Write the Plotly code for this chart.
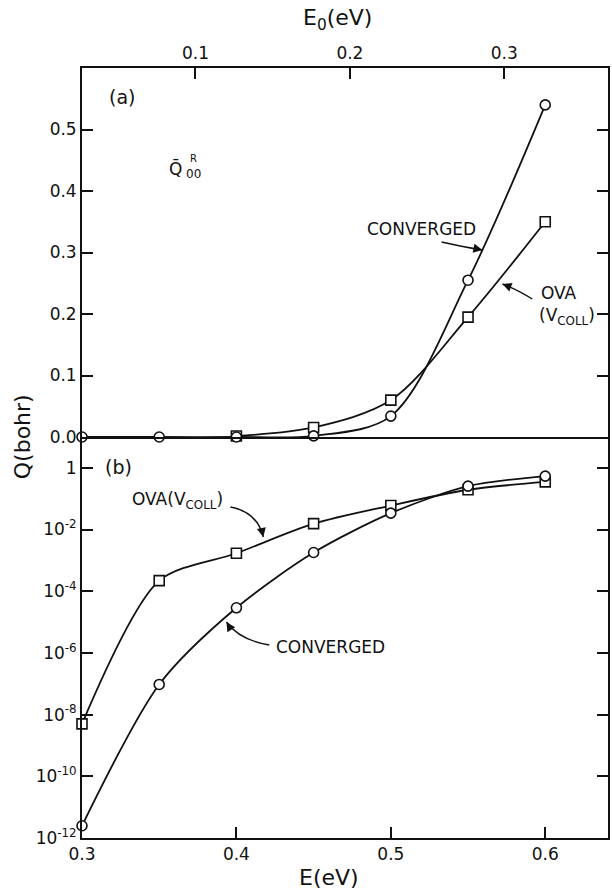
import plotly.graph_objects as go

# ---- data ----
E = [0.30, 0.35, 0.40, 0.45, 0.50, 0.55, 0.60]
q_converged = [2.5e-12, 9.5e-8, 2.9e-5, 1.8e-3, 3.4e-2, 0.255, 0.54]
q_ova = [5.0e-9, 2.2e-4, 1.7e-3, 1.55e-2, 6.0e-2, 0.195, 0.35]
E_ova_a = E[2:]
q_ova_a = q_ova[2:]

lin_ticks = [0.0, 0.1, 0.2, 0.3, 0.4, 0.5]
lin_text = ["0.0", "0.1", "0.2", "0.3", "0.4", "0.5"]
log_ticks = [1, 1e-2, 1e-4, 1e-6, 1e-8, 1e-10, 1e-12]
log_text = ["1", "10<sup>-2</sup>", "10<sup>-4</sup>", "10<sup>-6</sup>",
            "10<sup>-8</sup>", "10<sup>-10</sup>", "10<sup>-12</sup>"]
E_ticks = [0.3, 0.4, 0.5, 0.6]
E0_ticks = [0.1, 0.2, 0.3]
E0_offset = 0.2735

# ---- layout geometry (pixels) ----
W_, H_ = 612, 893
L, R, T, B = 82, 610, 68, 838
DIV = 437
PW, PH = R - L, B - T
def px(x): return (x - L) / PW
def py(y): return (B - y) / PH
split = py(DIV)

FONT = "DejaVu Sans"
BLACK = "#111111"
xr = [0.3, 0.3 + (R - L) / 1550.0]

fig = go.Figure()

circ = dict(symbol="circle", size=10, color="white", line=dict(color=BLACK, width=1.6))
sq = dict(symbol="square", size=10, color="white", line=dict(color=BLACK, width=1.6))
ln = dict(color=BLACK, width=1.8, shape="spline", smoothing=0.9)
ln_b = dict(color=BLACK, width=1.8, shape="spline", smoothing=0.8)

# panel (a)
fig.add_trace(go.Scatter(x=E_ova_a, y=q_ova_a, mode="lines+markers", marker=sq, line=ln,
                         xaxis="x", yaxis="y", cliponaxis=False, showlegend=False))
fig.add_trace(go.Scatter(x=E, y=q_converged, mode="lines+markers", marker=circ, line=ln,
                         xaxis="x", yaxis="y", cliponaxis=False, showlegend=False))
# panel (b)
fig.add_trace(go.Scatter(x=E, y=q_ova, mode="lines+markers", marker=sq, line=ln_b,
                         xaxis="x2", yaxis="y2", cliponaxis=False, showlegend=False))
fig.add_trace(go.Scatter(x=E, y=q_converged, mode="lines+markers", marker=circ, line=ln_b,
                         xaxis="x2", yaxis="y2", cliponaxis=False, showlegend=False))
# invisible trace to activate top axis
fig.add_trace(go.Scatter(x=[e - E0_offset for e in E[:1]], y=[None], xaxis="x3", yaxis="y",
                         showlegend=False, hoverinfo="skip"))

tickfont = dict(family=FONT, size=17, color=BLACK)
axline = dict(showline=True, linecolor=BLACK, linewidth=1.8, showgrid=False, zeroline=False)

fig.update_layout(
    width=W_, height=H_,
    margin=dict(l=L, r=W_ - R, t=T, b=H_ - B),
    paper_bgcolor="white", plot_bgcolor="white",
    font=dict(family=FONT, color=BLACK),
    xaxis=dict(domain=[0, 1], range=xr, anchor="y", showticklabels=False, ticks="", **axline),
    yaxis=dict(domain=[split, 1], range=[0, 0.6], anchor="x", tickvals=lin_ticks, ticktext=lin_text,
               ticks="inside", ticklen=11, tickwidth=1.6, tickcolor=BLACK, mirror="ticks",
               tickfont=tickfont, **axline),
    xaxis2=dict(domain=[0, 1], range=xr, anchor="y2", tickvals=E_ticks,
                ticktext=["0.3", "0.4", "0.5", "0.6"], ticks="inside", ticklen=11, tickwidth=1.6,
                tickcolor=BLACK, tickfont=tickfont, **axline),
    yaxis2=dict(domain=[0, split], type="log", range=[-12, 1], anchor="x2", tickvals=log_ticks,
                ticktext=log_text, ticks="inside", ticklen=11, tickwidth=1.6, tickcolor=BLACK,
                mirror="ticks", tickfont=tickfont, **axline),
    xaxis3=dict(overlaying="x", side="top", anchor="y", range=[xr[0] - E0_offset, xr[1] - E0_offset],
                tickvals=E0_ticks, ticktext=["0.1", "0.2", "0.3"], ticks="inside", ticklen=11,
                tickwidth=1.6, tickcolor=BLACK, tickfont=tickfont, **axline),
)

ann = []
def text(x, y, s, size=17, **kw):
    ann.append(dict(xref="paper", yref="paper", x=px(x), y=py(y), text=s, showarrow=False,
                    xanchor="center", yanchor="middle",
                    font=dict(family=FONT, size=size, color=BLACK), **kw))

text(122, 97, "(a)", 19)
text(119, 467, "(b)", 19)
text(176, 168, "Q\u0304", 17)
text(194, 174, "00", 12)
text(194, 158, "R", 10)
text(423, 229, "CONVERGED", 17)
text(561, 293, "OVA", 17)
text(569, 316, "(V<sub>COLL</sub>)", 17)
text(178, 500, "OVA(V<sub>COLL</sub>)", 17)
text(331, 647, "CONVERGED", 17)
text(22, 437, "Q(bohr)", 22, textangle=-90)
text(330, 877, "E(eV)", 22)
text(338, 20, "E<sub>0</sub>(eV)", 22)

shapes = []
def curve(p0, c, p1):
    shapes.append(dict(type="path", xref="paper", yref="paper",
                       path=f"M {px(p0[0])},{py(p0[1])} Q {px(c[0])},{py(c[1])} {px(p1[0])},{py(p1[1])}",
                       line=dict(color=BLACK, width=1.4)))

def head(tip, frm):
    ann.append(dict(xref="paper", yref="paper", x=px(tip[0]), y=py(tip[1]), text="",
                    showarrow=True, arrowhead=2, arrowsize=1.3, arrowwidth=1.4, arrowcolor=BLACK,
                    axref="pixel", ayref="pixel", ax=frm[0] - tip[0], ay=frm[1] - tip[1]))

curve((443, 242), (465, 247), (484, 250)); head((484, 250), (474, 248))
curve((534, 299), (518, 289), (504, 284)); head((504, 284), (512, 287))
curve((231, 507), (258, 512), (264, 537)); head((264, 537), (262, 528))
curve((270, 645), (240, 640), (227, 622)); head((227, 622), (232, 630))

fig.update_layout(annotations=ann, shapes=shapes)
fig.write_html("out.html")
